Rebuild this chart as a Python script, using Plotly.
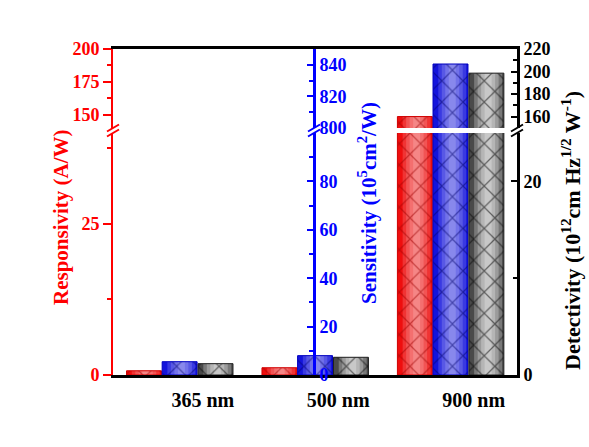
import plotly.graph_objects as go

# ---------------- data ----------------
categories = ["365 nm", "500 nm", "900 nm"]
responsivity = [0.7, 1.2, 148.7]      # A/W
sensitivity = [5.5, 8.0, 840.5]       # 10^5 cm^2/W
detectivity = [1.17, 1.83, 198.6]     # 10^12 cm Hz^1/2 W^-1

resp_ticks_low = [0, 25]
resp_ticks_high = [150, 175, 200]
sens_ticks_low = [0, 20, 40, 60, 80]
sens_ticks_high = [800, 820, 840]
det_ticks_low = [0, 20]
det_ticks_high = [160, 180, 200, 220]

# ---------------- geometry helpers ----------------
W, H = 589, 447
L, R, T, B = 113, 72, 49, 72
PW, PH = W - L - R, H - T - B


def px(x):
    return (x - L) / PW


def py(y):
    return (H - B - y) / PH


lower_dom = [0, py(133)]
upper_dom = [py(128), 1]
XR = [-0.663, 2.32]
FONT = "Liberation Serif"

fig = go.Figure()

series = [
    # values, base color, pattern color, outline, offset, highlight alpha, (y low, y high)
    (responsivity, "#EE0E0E", "#990000", "#D00000", -0.563, 0.16, ("y", "y4")),
    (sensitivity, "#1414DC", "#00006A", "#0000C0", -0.300, 0.16, ("y2", "y5")),
    (detectivity, "#4A4A4A", "#000000", "#202020", -0.035, 0.26, ("y3", "y6")),
]
BW = 0.258

for vals, base, pat, outline, off, alpha, (ylo, yhi) in series:
    for xa, ya in (("x", ylo), ("x2", yhi)):
        fig.add_trace(go.Bar(x=categories, y=vals, xaxis=xa, yaxis=ya,
                             width=BW, offset=off,
                             marker=dict(color=base, line=dict(width=0)),
                             showlegend=False, hoverinfo="skip"))
        # highlight layers for a cylindrical shading
        for frac in (0.8, 0.6, 0.4, 0.2):
            w = BW * frac
            fig.add_trace(go.Bar(x=categories, y=vals, xaxis=xa, yaxis=ya,
                                 width=w, offset=off + BW * 0.55 - w / 2,
                                 marker=dict(color=f"rgba(255,255,255,{alpha})",
                                             line=dict(width=0)),
                                 showlegend=False, hoverinfo="skip"))
        fig.add_trace(go.Bar(x=categories, y=vals, xaxis=xa, yaxis=ya,
                             width=BW, offset=off,
                             marker=dict(color="rgba(0,0,0,0)",
                                         line=dict(width=1, color=outline),
                                         pattern=dict(shape="x", fgcolor=pat, size=15,
                                                      solidity=0.16, fillmode="overlay")),
                             showlegend=False, hoverinfo="skip"))


def tf(color, size=18):
    return dict(family=FONT, size=size, color=color, weight="bold")


def yax(color, dom=None, rng=None, tickvals=None, minor=None, lw=2, ticks="outside",
        side="left", anchor="x", overlaying=None, position=None, tlen=7):
    d = dict(range=rng, tickmode="array", tickvals=tickvals, ticks=ticks, ticklen=tlen,
             tickwidth=2, tickcolor=color, showline=True, linecolor=color, linewidth=lw,
             tickfont=tf(color), showgrid=False, zeroline=False, side=side, anchor=anchor,
             automargin=False,
             minor=dict(tickmode="array", tickvals=minor, ticks=ticks, ticklen=4,
                        tickwidth=2, tickcolor=color))
    if dom is not None:
        d["domain"] = dom
    if overlaying:
        d["overlaying"] = overlaying
    if position is not None:
        d["position"] = position
    return d


fig.update_layout(
    width=W, height=H, autosize=False,
    margin=dict(l=L, r=R, t=T, b=B, pad=0),
    plot_bgcolor="white", paper_bgcolor="white",
    barmode="overlay", showlegend=False,
    xaxis=dict(domain=[0, 1], anchor="y", range=XR, type="category",
               showline=True, linecolor="black", linewidth=3, ticks="",
               tickfont=tf("black", 20), ticklabelstandoff=5, automargin=False,
               showgrid=False, zeroline=False),
    xaxis2=dict(domain=[0, 1], anchor="y4", range=XR, type="category",
                side="top", showline=True, linecolor="black", linewidth=2.5,
                showticklabels=False, ticks="", showgrid=False, zeroline=False),
    yaxis=yax("red", lower_dom, [0, 40], resp_ticks_low, [12.5, 37.5], tlen=8),
    yaxis2=yax("blue", None, [0, 100], sens_ticks_low, [10, 30, 50, 70, 90], lw=3,
               ticks="inside", side="right", anchor="free", overlaying="y",
               position=px(314), tlen=6),
    yaxis3=yax("black", None, [0, 25], det_ticks_low, [10], lw=3, ticks="inside",
               side="right", anchor="x", overlaying="y", tlen=6),
    yaxis4=yax("red", upper_dom, [140, 200], resp_ticks_high, [162.5, 187.5],
               anchor="x2", tlen=8),
    yaxis5=yax("blue", None, [800, 850], sens_ticks_high, [810, 830], lw=3,
               ticks="inside", side="right", anchor="free", overlaying="y4",
               position=px(314), tlen=6),
    yaxis6=yax("black", None, [150, 220], det_ticks_high, [170, 190, 210], lw=3,
               ticks="inside", side="right", anchor="x2", overlaying="y4", tlen=6),
)

# axis titles
fig.add_annotation(text="Responsivity (A/W)", x=px(61), y=py(217), xref="paper", yref="paper",
                   textangle=-90, showarrow=False, font=tf("red", 21),
                   xanchor="center", yanchor="middle")
fig.add_annotation(text="Sensitivity (10<sup>5</sup>cm<sup>2</sup>/W)", x=px(367), y=py(203),
                   xref="paper", yref="paper", textangle=-90, showarrow=False,
                   font=tf("blue", 21), xanchor="center", yanchor="middle")
fig.add_annotation(text="Detectivity (10<sup>12</sup>cm Hz<sup>1/2</sup> W<sup>-1</sup>)",
                   x=px(571), y=py(231), xref="paper", yref="paper", textangle=-90,
                   showarrow=False, font=tf("black", 22), xanchor="center", yanchor="middle")

# axis break marks
for xb, col in ((113, "red"), (314, "blue"), (517, "black")):
    for yc in (128, 133):
        fig.add_shape(type="line", xref="paper", yref="paper",
                      x0=px(xb - 6), y0=py(yc + 3.5), x1=px(xb + 6), y1=py(yc - 3.5),
                      line=dict(color=col, width=2))

fig.write_html("out.html", config={"displayModeBar": False},
               post_script="document.body.style.margin='0';document.body.style.padding='0';")
